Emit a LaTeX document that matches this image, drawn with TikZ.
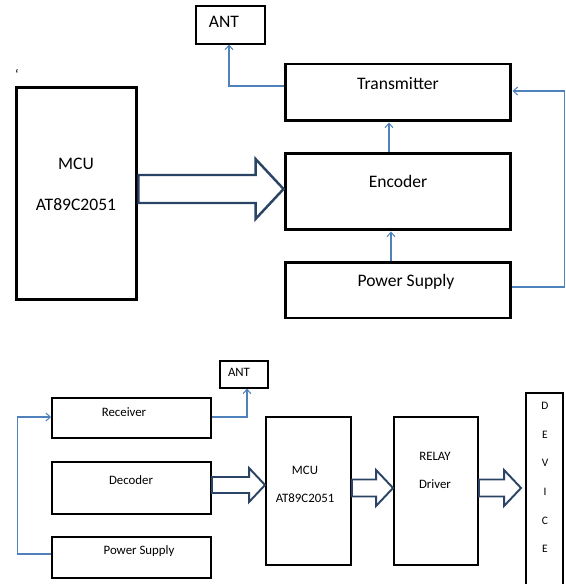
\documentclass[tikz,border=0pt]{standalone}
\usepackage{fontspec}
\setmainfont{Carlito}
\usetikzlibrary{calc,arrows.meta}
\definecolor{wire}{HTML}{4F81BD}
\definecolor{fatblue}{HTML}{2B4466}

% hollow block arrow: [style] start anchor, tip, half body, half head, head length
\newcommand{\fatarrow}[6][]{%
  \draw[fat,#1] ($(#2 |- #3)+(0,#4)$) -- ($(#3)+(-#6,#4)$) -- ($(#3)+(-#6,#5)$) -- (#3)
    -- ($(#3)+(-#6,-#5)$) -- ($(#3)+(-#6,-#4)$) -- ($(#2 |- #3)+(0,-#4)$) -- cycle;}

\begin{document}
\begin{tikzpicture}[x=0.02cm, y=-0.02cm,
    bigbox/.style={draw, line width=1.7pt, inner sep=0pt},
    smallbox/.style={draw, line width=1.1pt, inner sep=0pt},
    antbox/.style={draw, line width=0.6pt, inner sep=0pt},
    wirearr/.style={draw=wire, line width=0.6pt, -{Straight Barb[length=2.5pt,width=4.5pt]}},
    fat/.style={draw=fatblue, line width=1.4pt, fill=white, line join=miter},
    sm/.style={font=\fontsize{7.3}{9}\selectfont},
    every node/.style={font=\fontsize{10}{12}\selectfont}]
  \useasboundingbox (0,0) rectangle (565,584);
  \clip (0,0) rectangle (565,584);

  % transmitter side
  \node[antbox, minimum width=1.38cm, minimum height=0.76cm] (antA) at (230.5,25) {};
  \node (antAtxt) at (224,22) {ANT};
  \node[font=\fontsize{8}{8}\selectfont] (mark) at (17,74) {‘};
  \node[bigbox, minimum width=2.42cm, minimum height=4.26cm] (mcuA) at (76.5,193.5) {};
  \node (mcuAtxt) at (76,164) {MCU};
  \node (mcuAnum) at (76,205) {AT89C2051};
  \node[bigbox, minimum width=4.52cm, minimum height=1.14cm] (tx) at (398,92.5) {};
  \node (txtxt) at (398,84) {Transmitter};
  \node[bigbox, minimum width=4.52cm, minimum height=1.54cm] (enc) at (398,191.5) {};
  \node (enctxt) at (398,181) {Encoder};
  \node[bigbox, minimum width=4.52cm, minimum height=1.12cm] (psA) at (398,290) {};
  \node (psAtxt) at (406,282) {Power Supply};

  \draw[wirearr] ($(tx.west)+(0,-6.5)$) -| ($(antA.south)+(-1.5,0)$);
  \draw[wirearr] ($(enc.north)+(-9,0)$) -- ($(tx.south)+(-9,0)$);
  \draw[wirearr] ($(psA.north)+(-7,0)$) -- ($(enc.south)+(-7,0)$);
  \draw[wirearr] ($(psA.east)+(0,-3)$) -- ++(52,0) |- ($(tx.east)+(0,-1.5)$);
  \coordinate (tipA) at ($(enc.west)+(0,-2.5)$);
  \fatarrow{mcuA.east}{tipA}{14}{30}{28}

  % receiver side
  \node[antbox, minimum width=0.96cm, minimum height=0.54cm] (antB) at (244,374.5) {};
  \node[sm] (antBtxt) at (239,372) {ANT};
  \node[smallbox, minimum width=3.18cm, minimum height=0.8cm] (rx) at (131.5,418) {};
  \node[sm] (rxtxt) at (124,412) {Receiver};
  \node[smallbox, minimum width=3.18cm, minimum height=1.04cm] (dec) at (131.5,488) {};
  \node[sm] (dectxt) at (131,480) {Decoder};
  \node[smallbox, minimum width=3.18cm, minimum height=0.82cm] (psB) at (131.5,557.5) {};
  \node[sm] (psBtxt) at (139,551) {Power Supply};
  \node[smallbox, minimum width=1.7cm, minimum height=2.96cm] (mcuB) at (308.5,491) {};
  \node[sm] (mcuBtxt) at (305,470) {MCU};
  \node[sm] (mcuBnum) at (305,498) {AT89C2051};
  \node[smallbox, minimum width=1.68cm, minimum height=2.96cm] (relay) at (436,491) {};
  \node[sm] (relaytxt) at (435,456) {RELAY};
  \node[sm] (drvtxt) at (435,484) {Driver};
  \node[smallbox, minimum width=0.74cm, minimum height=4.24cm] (dev) at (544.5,499) {};
  \foreach \c [count=\i from 0] in {D,E,V,I,C,E}
    \node[font=\fontsize{6.5}{8}\selectfont] (dev\i) at (545,406+28.6*\i) {\c};

  \draw[wirearr] ($(rx.east)+(0,-1)$) -| ($(antB.south)+(3,0)$);
  \draw[wirearr] ($(psB.west)+(0,-3.5)$) -- ++(-34,0) |- ($(rx.west)+(0,-1)$);
  \coordinate (tipB) at ($(mcuB.west)+(0,-6)$);
  \coordinate (tipC) at ($(relay.west)+(0,-3)$);
  \coordinate (tipD) at ($(dev.west)+(-4,-11)$);
  \fatarrow[line width=1.1pt]{dec.east}{tipB}{8}{17}{16}
  \fatarrow[line width=1.1pt]{mcuB.east}{tipC}{8.5}{18}{17}
  \fatarrow[line width=1.1pt]{relay.east}{tipD}{8.5}{18}{17}
\end{tikzpicture}
\end{document}
